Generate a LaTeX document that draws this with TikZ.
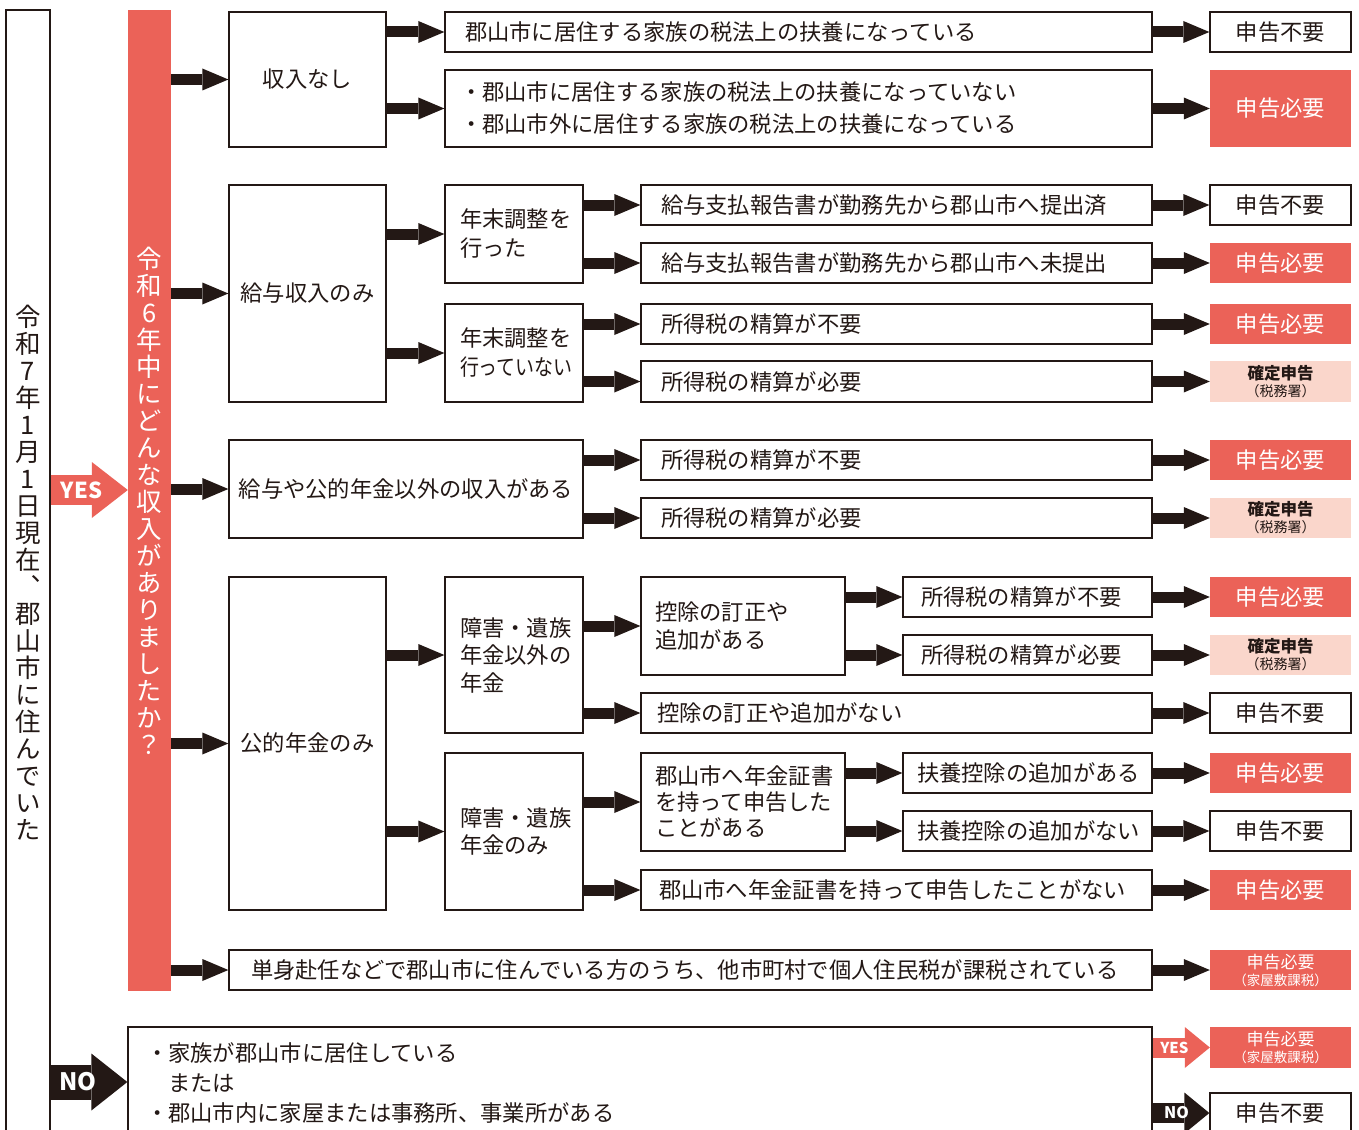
\documentclass[tikz,border=0pt]{standalone}
\usepackage{fontspec}
\setmainfont{Noto Sans CJK JP}
\newfontfamily\kvert[RawFeature=+vert]{Noto Sans CJK JP}
\newfontfamily\kcond[FakeStretch=0.85]{Noto Sans CJK JP}
\usetikzlibrary{arrows.meta}
\definecolor{kred}{RGB}{235,98,88}
\definecolor{kpink}{RGB}{250,214,203}
\definecolor{kblk}{RGB}{35,24,21}
% #1 name, #2 x1, #3 y1, #4 x2, #5 y2, #6 pad, #7 options, #8 text
\newcommand\kbox[8]{%
 \pgfmathsetmacro\kcx{(#2+#4)/2}%
 \pgfmathsetmacro\kcy{(#3+#5)/2}%
 \pgfmathsetmacro\kw{#4-#2}%
 \pgfmathsetmacro\kh{#5-#3}%
 \pgfmathsetmacro\ktw{#4-#2-2*#6}%
 \node[minimum width=\kw pt, minimum height=\kh pt, text width=\ktw pt, inner xsep=#6pt, inner ysep=0pt, #7] (#1) at (\kcx,\kcy) {#8};}
\tikzset{
 bx/.style={draw=kblk, line width=1.3pt, fill=white, text=kblk, align=left, font=\fontsize{22.3}{28}\selectfont},
 cbx/.style={bx, align=center},
 rwhite/.style={draw=kblk, line width=1.3pt, fill=white, text=kblk, align=center, font=\fontsize{22.3}{28}\selectfont},
 rred/.style={fill=kred, text=white, align=center, font=\fontsize{22.3}{28}\selectfont},
 rpink/.style={fill=kpink, text=kblk, align=center, font=\fontsize{16.5}{17}\selectfont\bfseries},
 rred2/.style={fill=kred, text=white, align=center, font=\fontsize{17}{17}\selectfont},
 arr/.style={draw=kblk, line width=11pt, -{Triangle[length=26pt,width=22pt,line width=0pt]}},
 yesarr/.style={draw=kred, line width=30pt, -{Triangle[length=36pt,width=56pt,line width=0pt]}},
 noarr/.style={draw=kblk, line width=35pt, -{Triangle[length=36pt,width=57pt,line width=0pt]}},
 syes/.style={draw=kred, line width=20pt, -{Triangle[length=25pt,width=41pt,line width=0pt]}},
 sno/.style={draw=kblk, line width=20pt, -{Triangle[length=25pt,width=41pt,line width=0pt]}},
 lbl/.style={text=white, font=\fontsize{22}{22}\selectfont\bfseries, inner sep=0pt},
 slbl/.style={text=white, font=\fontsize{15}{15}\selectfont\bfseries, inner sep=0pt},
 vtxt/.style={font=\kvert\fontsize{25.5}{27}\selectfont, align=center, inner sep=0pt},
}
\begin{document}
\begin{tikzpicture}[x=1pt,y=-1pt]
\useasboundingbox (0,0) rectangle (1359,1129);
\clip (0,0) rectangle (1359,1129);
\fill[white] (0,0) rectangle (1359,1129);
% left frame and question bar
\kbox{L}{6}{10}{50}{1136}{0}{draw=kblk, line width=1.3pt}{}
\node[vtxt, text=kblk] (Lt) at (28,573) {令\\和\\7\\年\\1\\月\\1\\日\\現\\在\\、\\郡\\山\\市\\に\\住\\ん\\で\\い\\た};
\kbox{q}{128}{10}{171}{991}{0}{fill=kred, text=white, align=center, font=\kvert\fontsize{25.5}{27}\selectfont}{令\\和\\6\\年\\中\\に\\ど\\ん\\な\\収\\入\\が\\あ\\り\\ま\\し\\た\\か\\？}
% row 1
\kbox{r1}{229}{12}{386}{147}{0}{cbx}{収入なし}
\kbox{r1a}{445}{12}{1152}{52}{20}{bx}{郡山市に居住する家族の税法上の扶養になっている}
\kbox{r1b}{445}{70}{1152}{147}{15}{bx, font=\fontsize{22.3}{32}\selectfont}{・郡山市に居住する家族の税法上の扶養になっていない\\・郡山市外に居住する家族の税法上の扶養になっている}
\kbox{s1a}{1210}{12}{1351}{52}{0}{rwhite}{申告不要}
\kbox{s1b}{1210}{70}{1351}{147}{0}{rred}{申告必要}
% row 2
\kbox{r2}{229}{185}{386}{402}{0}{cbx}{給与収入のみ}
\kbox{r2a}{445}{185}{583}{283}{15}{bx, font=\fontsize{22.3}{29}\selectfont}{年末調整を\\行った}
\kbox{r2b}{445}{304}{583}{402}{15}{bx, font=\fontsize{22.3}{29}\selectfont}{年末調整を\\{\kcond 行っていない}}
\kbox{r2a1}{641}{185}{1152}{225}{20}{bx}{給与支払報告書が勤務先から郡山市へ提出済}
\kbox{r2a2}{641}{243}{1152}{283}{20}{bx}{給与支払報告書が勤務先から郡山市へ未提出}
\kbox{r2b1}{641}{304}{1152}{344}{20}{bx}{所得税の精算が不要}
\kbox{r2b2}{641}{361}{1152}{402}{20}{bx}{所得税の精算が必要}
\kbox{s2a1}{1210}{185}{1351}{225}{0}{rwhite}{申告不要}
\kbox{s2a2}{1210}{243}{1351}{283}{0}{rred}{申告必要}
\kbox{s2b1}{1210}{304}{1351}{344}{0}{rred}{申告必要}
\kbox{s2b2}{1210}{361}{1351}{402}{0}{rpink}{確定申告\\{\mdseries\fontsize{14}{17}\selectfont （税務署）}}
% row 3
\kbox{r3}{229}{440}{583}{538}{0}{cbx}{給与や公的年金以外の収入がある}
\kbox{r3a}{641}{440}{1152}{480}{20}{bx}{所得税の精算が不要}
\kbox{r3b}{641}{498}{1152}{538}{20}{bx}{所得税の精算が必要}
\kbox{s3a}{1210}{440}{1351}{480}{0}{rred}{申告必要}
\kbox{s3b}{1210}{498}{1351}{538}{0}{rpink}{確定申告\\{\mdseries\fontsize{14}{17}\selectfont （税務署）}}
% row 4
\kbox{r4}{229}{577}{386}{910}{0}{cbx}{公的年金のみ}
\kbox{r4a}{445}{577}{583}{733}{15}{bx, font=\fontsize{22.3}{27.5}\selectfont}{障害・遺族\\年金以外の\\年金}
\kbox{r4b}{445}{753}{583}{910}{15}{bx, font=\fontsize{22.3}{27.5}\selectfont}{障害・遺族\\年金のみ}
\kbox{r4a1}{641}{577}{845}{675}{14}{bx}{控除の訂正や\\追加がある}
\kbox{r4a1a}{903}{577}{1152}{617}{18}{bx}{所得税の精算が不要}
\kbox{r4a1b}{903}{635}{1152}{675}{18}{bx}{所得税の精算が必要}
\kbox{r4a2}{641}{693}{1152}{733}{16}{bx}{控除の訂正や追加がない}
\kbox{r4b1}{641}{753}{845}{851}{14}{bx, font=\fontsize{22.3}{26}\selectfont}{郡山市へ年金証書\\を持って申告した\\ことがある}
\kbox{r4b1a}{903}{753}{1152}{793}{14}{bx}{扶養控除の追加がある}
\kbox{r4b1b}{903}{811}{1152}{851}{14}{bx}{扶養控除の追加がない}
\kbox{r4b2}{641}{870}{1152}{910}{18}{bx}{郡山市へ年金証書を持って申告したことがない}
\kbox{s4a1a}{1210}{577}{1351}{617}{0}{rred}{申告必要}
\kbox{s4a1b}{1210}{635}{1351}{675}{0}{rpink}{確定申告\\{\mdseries\fontsize{14}{17}\selectfont （税務署）}}
\kbox{s4a2}{1210}{693}{1351}{733}{0}{rwhite}{申告不要}
\kbox{s4b1a}{1210}{753}{1351}{793}{0}{rred}{申告必要}
\kbox{s4b1b}{1210}{811}{1351}{851}{0}{rwhite}{申告不要}
\kbox{s4b2}{1210}{870}{1351}{910}{0}{rred}{申告必要}
% row 5
\kbox{r5}{229}{950}{1152}{990}{22}{bx}{単身赴任などで郡山市に住んでいる方のうち、他市町村で個人住民税が課税されている}
\kbox{s5}{1210}{950}{1351}{990}{0}{rred2}{申告必要\\{\fontsize{13.5}{17}\selectfont （家屋敷課税）}}
% NO part
\kbox{nb}{128}{1027}{1152}{1139}{18}{bx, font=\fontsize{22.3}{30}\selectfont}{・家族が郡山市に居住している\\\hspace*{1em}または\\・郡山市内に家屋または事務所、事業所がある}
\kbox{sn1}{1210}{1027}{1351}{1068}{0}{rred2}{申告必要\\{\fontsize{13.5}{17}\selectfont （家屋敷課税）}}
\kbox{sn2}{1210}{1093}{1351}{1133}{0}{rwhite}{申告不要}
% connectors
\foreach \t in {r1,r2,r3,r4,r5} \draw[arr] (q.east |- \t.west) -- (\t.west);
\draw[arr] (r1.east |- r1a.west) -- (r1a.west);
\draw[arr] (r1.east |- r1b.west) -- (r1b.west);
\draw[arr] (r2.east |- r2a.west) -- (r2a.west);
\draw[arr] (r2.east |- r2b.west) -- (r2b.west);
\draw[arr] (r2a.east |- r2a1.west) -- (r2a1.west);
\draw[arr] (r2a.east |- r2a2.west) -- (r2a2.west);
\draw[arr] (r2b.east |- r2b1.west) -- (r2b1.west);
\draw[arr] (r2b.east |- r2b2.west) -- (r2b2.west);
\draw[arr] (r3.east |- r3a.west) -- (r3a.west);
\draw[arr] (r3.east |- r3b.west) -- (r3b.west);
\draw[arr] (r4.east |- r4a.west) -- (r4a.west);
\draw[arr] (r4.east |- r4b.west) -- (r4b.west);
\draw[arr] (r4a.east |- r4a1.west) -- (r4a1.west);
\draw[arr] (r4a.east |- r4a2.west) -- (r4a2.west);
\draw[arr] (r4a1.east |- r4a1a.west) -- (r4a1a.west);
\draw[arr] (r4a1.east |- r4a1b.west) -- (r4a1b.west);
\draw[arr] (r4b.east |- r4b1.west) -- (r4b1.west);
\draw[arr] (r4b.east |- r4b2.west) -- (r4b2.west);
\draw[arr] (r4b1.east |- r4b1a.west) -- (r4b1a.west);
\draw[arr] (r4b1.east |- r4b1b.west) -- (r4b1b.west);
\foreach \s/\t in {r1a/s1a,r1b/s1b,r2a1/s2a1,r2a2/s2a2,r2b1/s2b1,r2b2/s2b2,r3a/s3a,r3b/s3b,r4a1a/s4a1a,r4a1b/s4a1b,r4a2/s4a2,r4b1a/s4b1a,r4b1b/s4b1b,r4b2/s4b2,r5/s5}
  \draw[arr] (\s.east) -- (\t.west |- \s.east);
\coordinate (yy) at (0,490);
\coordinate (ny) at (0,1082);
\draw[yesarr] (L.east |- yy) -- node[lbl, pos=0.4] (yl) {YES} (q.west |- yy);
\draw[noarr] (L.east |- ny) -- node[lbl, font=\fontsize{24}{24}\selectfont\bfseries, pos=0.36] (nl) {NO} (nb.west |- ny);
\draw[syes] (nb.east |- sn1.west) -- node[slbl, pos=0.38] (syl) {YES} (sn1.west);
\draw[sno] (nb.east |- sn2.west) -- node[slbl, font=\fontsize{16}{16}\selectfont\bfseries, pos=0.42] (snl) {NO} (sn2.west);
\end{tikzpicture}
\end{document}
